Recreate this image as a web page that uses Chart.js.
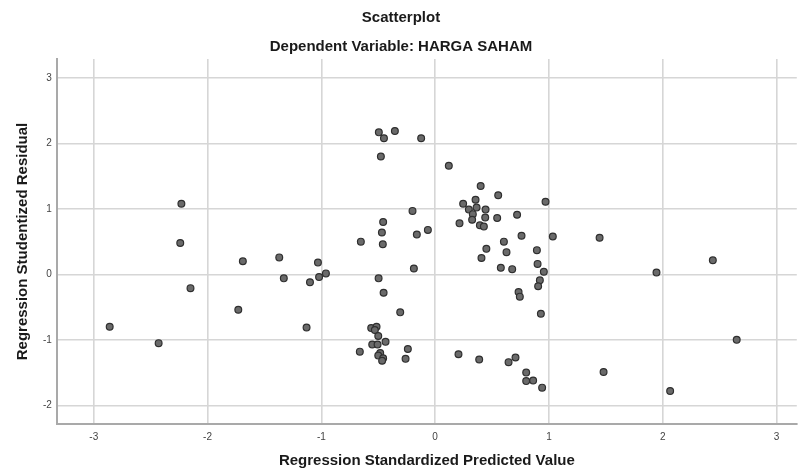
<!DOCTYPE html>
<html lang="id">
<head>
  <meta charset="UTF-8" />
  <title>Scatterplot - HARGA SAHAM</title>
  <script src="https://cdn.jsdelivr.net/npm/chart.js"></script>
  <style>
    body {
      margin: 0;
      background: #fff;
    }
    #chart {
      display: block;
    }
  </style>
</head>
<body>
  <canvas id="chart" width="802" height="470"></canvas>

  <script>
    // Regression Standardized Predicted Value
    const predicted = [
      -2.23, -2.24, -1.69, -2.15, -1.73, -2.86, -2.43, -1.37, -1.03, -0.96,
      -1.02, -1.33, -1.10, -1.13,
      -0.495, -0.45, -0.354, -0.123, -0.477, -0.199, -0.457, -0.468, -0.064, -0.161,
      -0.653, -0.46, -0.187, -0.497, -0.453, -0.307, -0.562, -0.515, -0.53, -0.50,
      -0.436, -0.553, -0.506, -0.662, -0.24, -0.483, -0.50, -0.457, -0.466, -0.26,
      0.12, 0.40, 0.554, 0.355, 0.97, 0.246, 0.296, 0.364, 0.443, 0.331,
      0.72, 0.44, 0.545, 0.325, 0.214, 0.393, 0.428, 0.759, 1.034, 1.445,
      0.604, 0.45, 0.627, 0.894, 0.407, 0.90, 0.577, 0.677, 0.955, 0.92,
      0.905, 0.733, 0.744, 0.929, 2.65, 0.205, 0.387, 0.645, 0.706, 0.80,
      0.80, 0.861, 0.94, 1.48, 2.065, 1.945, 2.44
    ];

    // Regression Studentized Residual
    const residual = [
      1.08, 0.48, 0.20, -0.21, -0.54, -0.80, -1.05, 0.26, 0.18, 0.015,
      -0.04, -0.06, -0.12, -0.81,
      2.17, 2.08, 2.19, 2.08, 1.80, 0.97, 0.80, 0.64, 0.68, 0.61,
      0.50, 0.46, 0.09, -0.06, -0.28, -0.58, -0.82, -0.80, -0.85, -0.94,
      -1.03, -1.07, -1.07, -1.18, -1.14, -1.20, -1.24, -1.28, -1.32, -1.29,
      1.66, 1.35, 1.21, 1.14, 1.11, 1.08, 0.99, 1.02, 0.99, 0.92,
      0.91, 0.87, 0.86, 0.835, 0.78, 0.75, 0.73, 0.59, 0.58, 0.56,
      0.50, 0.39, 0.34, 0.37, 0.25, 0.16, 0.10, 0.08, 0.04, -0.09,
      -0.18, -0.27, -0.34, -0.60, -1.0, -1.22, -1.30, -1.34, -1.27, -1.50,
      -1.63, -1.62, -1.73, -1.49, -1.78, 0.03, 0.215
    ];

    const xTicks = [-3, -2, -1, 0, 1, 2, 3];
    const yTicks = [-2, -1, 0, 1, 2, 3];

    const points = predicted.map((x, i) => ({ x: x, y: residual[i] }));
    const fontFamily = "'Liberation Sans', Arial, sans-serif";

    new Chart(document.getElementById('chart'), {
      type: 'scatter',
      data: {
        datasets: [{
          label: 'HARGA SAHAM',
          data: points,
          backgroundColor: '#6a6a6a',
          borderColor: '#2f2f2f',
          borderWidth: 1.2,
          pointRadius: 3.4
        }]
      },
      options: {
        responsive: false,
        animation: false,
        layout: { padding: 0 },
        plugins: {
          legend: { display: false },
          tooltip: { enabled: false },
          title: {
            display: true,
            text: 'Scatterplot',
            color: '#1a1a1a',
            font: { family: fontFamily, size: 15, weight: 'bold' },
            padding: { top: 9, bottom: 0 }
          },
          subtitle: {
            display: true,
            text: 'Dependent Variable: HARGA SAHAM',
            color: '#1a1a1a',
            font: { family: fontFamily, size: 15, weight: 'bold' },
            padding: { top: 11, bottom: 3 }
          }
        },
        scales: {
          x: {
            type: 'linear',
            min: -3.324,
            max: 3.178,
            afterBuildTicks: (scale) => {
              scale.ticks = xTicks.map(v => ({ value: v }));
            },
            grid: { color: '#d6d6d6', lineWidth: 1.6, drawTicks: false },
            border: { display: true, color: '#a9a9a9', width: 2 },
            ticks: {
              padding: 7,
              color: '#444',
              font: { family: fontFamily, size: 10 }
            },
            title: {
              display: true,
              text: 'Regression Standardized Predicted Value',
              color: '#1a1a1a',
              font: { family: fontFamily, size: 15, weight: 'bold' },
              padding: { top: 2, bottom: 0 }
            }
          },
          y: {
            type: 'linear',
            min: -2.285,
            max: 3.29,
            afterBuildTicks: (scale) => {
              scale.ticks = yTicks.map(v => ({ value: v }));
            },
            grid: { color: '#d6d6d6', lineWidth: 1.6, drawTicks: false },
            border: { display: true, color: '#a9a9a9', width: 2 },
            ticks: {
              padding: 5,
              color: '#444',
              font: { family: fontFamily, size: 10 }
            },
            title: {
              display: true,
              text: 'Regression Studentized Residual',
              color: '#1a1a1a',
              font: { family: fontFamily, size: 15, weight: 'bold' },
              padding: { top: 14, bottom: 6 }
            }
          }
        }
      }
    });
  </script>
</body>
</html>
